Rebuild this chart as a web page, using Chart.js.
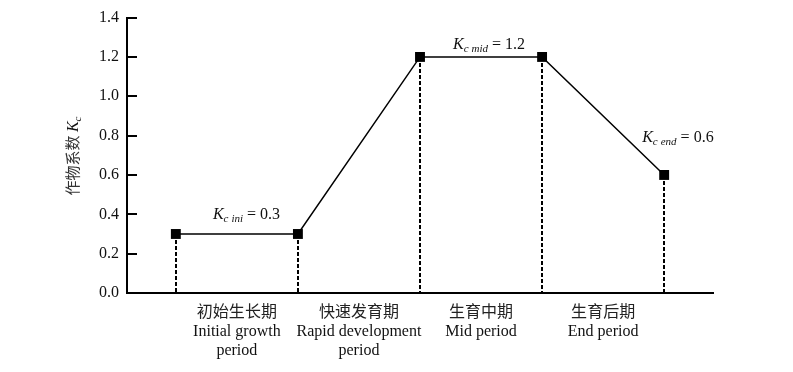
<!DOCTYPE html>
<html>
<head>
<meta charset="utf-8">
<script src="https://cdn.jsdelivr.net/npm/chart.js@4/dist/chart.umd.min.js"></script>
<style>
html,body{margin:0;padding:0;background:#fff;}
#wrap{width:793px;height:372px;}
</style>
</head>
<body>
<div id="wrap"><canvas id="c" width="793" height="372"></canvas></div>
<script>
// ---- data ----
const stageX = [1, 2, 3, 4, 5];
const kcValues = [0.3, 0.3, 1.2, 1.2, 0.6];
const stageNamesZh = ['初始生长期', '快速发育期', '生育中期', '生育后期'];
const stageNamesEn = [['Initial growth', 'period'], ['Rapid development', 'period'], ['Mid period'], ['End period']];
const yTicks = [0, 0.2, 0.4, 0.6, 0.8, 1.0, 1.2, 1.4];
const kcLabels = [
  { sub: 'ini', value: '0.3', x: 1.5, y: 0.3 },
  { sub: 'mid', value: '1.2', x: 3.5, y: 1.2 },
  { sub: 'end', value: '0.6', x: 5.0, y: 0.6 }
];
const labelOffsets = [{ dx: -24, dy: -15 }, { dx: -28, dy: -8 }, { dx: -22, dy: -33 }];

const SERIF = '"Liberation Serif", "Times New Roman", serif';
const CJK = '"Noto Sans CJK SC", sans-serif';

function drawKc(ctx, x, y, sub, tail) {
  ctx.textBaseline = 'alphabetic';
  ctx.textAlign = 'left';
  ctx.fillStyle = '#111';
  ctx.font = 'italic 16px ' + SERIF;
  ctx.fillText('K', x, y);
  x += ctx.measureText('K').width;
  ctx.font = 'italic 11px ' + SERIF;
  ctx.fillText('c', x, y + 3);
  x += ctx.measureText('c').width + 3;
  if (sub) {
    ctx.fillText(sub, x, y + 3);
    x += ctx.measureText(sub).width;
  }
  if (tail) {
    ctx.font = '16px ' + SERIF;
    ctx.fillText(tail, x, y);
  }
}

const decor = {
  id: 'decor',
  beforeDatasetsDraw(chart) {
    const { ctx, scales: { x, y } } = chart;
    ctx.save();
    // dashed drop lines
    ctx.strokeStyle = '#000';
    ctx.lineWidth = 2;
    ctx.setLineDash([4, 2]);
    stageX.forEach((sx, i) => {
      const px = Math.round(x.getPixelForValue(sx));
      ctx.beginPath();
      ctx.moveTo(px, y.getPixelForValue(kcValues[i]));
      ctx.lineTo(px, y.getPixelForValue(0));
      ctx.stroke();
    });
    ctx.setLineDash([]);
    // inward y ticks
    ctx.lineWidth = 2;
    yTicks.forEach(v => {
      const py = Math.round(y.getPixelForValue(v));
      ctx.beginPath();
      ctx.moveTo(chart.chartArea.left, py);
      ctx.lineTo(chart.chartArea.left + 10, py);
      ctx.stroke();
    });
    ctx.restore();
  },
  afterDraw(chart) {
    const { ctx, scales: { x, y } } = chart;
    ctx.save();
    // stage labels
    const bottom = y.getPixelForValue(0);
    stageNamesZh.forEach((zh, i) => {
      const cx = (x.getPixelForValue(stageX[i]) + x.getPixelForValue(stageX[i + 1])) / 2;
      ctx.textAlign = 'center';
      ctx.textBaseline = 'middle';
      ctx.fillStyle = '#222';
      ctx.font = '16px ' + CJK;
      ctx.fillText(zh, cx, bottom + 18);
      ctx.fillStyle = '#111';
      ctx.font = '16px ' + SERIF;
      stageNamesEn[i].forEach((ln, j) => {
        ctx.fillText(ln, cx, bottom + 39 + j * 19);
      });
    });
    // Kc annotations
    kcLabels.forEach((k, i) => {
      const px = x.getPixelForValue(k.x) + labelOffsets[i].dx;
      const py = y.getPixelForValue(k.y) + labelOffsets[i].dy;
      drawKc(ctx, px, py, k.sub, ' = ' + k.value);
    });
    // y axis title
    ctx.translate(73, 156);
    ctx.rotate(-Math.PI / 2);
    ctx.font = '15px ' + CJK;
    const zh = '作物系数 ';
    const wZh = ctx.measureText(zh).width;
    ctx.font = 'italic 16px ' + SERIF;
    const wK = ctx.measureText('K').width;
    ctx.font = 'italic 11px ' + SERIF;
    const wc = ctx.measureText('c').width;
    const total = wZh + wK + wc;
    let sx = -total / 2;
    ctx.fillStyle = '#333';
    ctx.font = '15px ' + CJK;
    ctx.textAlign = 'left';
    ctx.textBaseline = 'alphabetic';
    ctx.fillText(zh, sx, 5);
    drawKc(ctx, sx + wZh, 5, '', '');
    ctx.restore();
  }
};

new Chart(document.getElementById('c'), {
  type: 'line',
  data: {
    datasets: [{
      data: stageX.map((sx, i) => ({ x: sx, y: kcValues[i] })),
      borderColor: '#000',
      borderWidth: 1.5,
      pointStyle: 'rect',
      pointRadius: 7,
      pointBackgroundColor: '#000',
      pointBorderColor: '#000',
      pointBorderWidth: 0,
      tension: 0,
      clip: false
    }]
  },
  options: {
    responsive: false,
    animation: false,
    events: [],
    layout: { padding: { left: 0, top: 17, right: 80, bottom: 0 } },
    plugins: { legend: { display: false }, tooltip: { enabled: false } },
    scales: {
      x: {
        type: 'linear',
        min: 0.6,
        max: 5.4,
        ticks: { display: false },
        grid: { display: false, drawTicks: false },
        border: { display: true, color: '#000', width: 2 },
        afterFit(s) { s.height = 79; }
      },
      y: {
        type: 'linear',
        min: 0,
        max: 1.4,
        afterBuildTicks(s) { s.ticks = yTicks.map(v => ({ value: v })); },
        ticks: {
          padding: 8,
          color: '#111',
          font: { family: SERIF, size: 16 },
          callback: v => Number(v).toFixed(1)
        },
        grid: { display: false, drawTicks: false },
        border: { display: true, color: '#000', width: 2 },
        afterFit(s) { s.width = 127; }
      }
    }
  },
  plugins: [decor]
});
</script>
</body>
</html>
